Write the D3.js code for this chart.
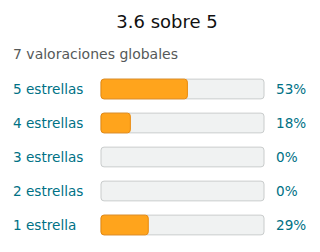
<!DOCTYPE html>
<html>
<head>
<meta charset="utf-8">
<script src="https://cdn.jsdelivr.net/npm/d3@7"></script>
<style>
  body { margin: 0; background: #fff; }
  text { font-family: "DejaVu Sans", sans-serif; }
</style>
</head>
<body>
<div class="canva"></div>
<script>
// data
const titleText = '3.6 sobre 5'
const subtitleText = '7 valoraciones globales'
const categories = ['5 estrellas', '4 estrellas', '3 estrellas', '2 estrellas', '1 estrella']
const percents = [53, 18, 0, 0, 29]

const W = 320, H = 252
const svg = d3.select('.canva').append('svg')
    .attr('width', W)
    .attr('height', H)

// title
svg.append('text')
    .text(titleText)
    .attr('x', 167)
    .attr('y', 28)
    .attr('text-anchor', 'middle')
    .attr('font-size', '18px')
    .attr('fill', '#111')

svg.append('text')
    .text(subtitleText)
    .attr('x', 13)
    .attr('y', 59)
    .attr('font-size', '14px')
    .attr('fill', '#565959')

// scales
const x = d3.scaleLinear().domain([0, 100]).range([101, 264])
const y = d3.scaleBand().domain(categories).range([72, 242]).paddingInner(0.42).paddingOuter(0.21)

const rows = svg.selectAll('g.row')
    .data(categories)
    .enter().append('g')
    .attr('class', 'row')

rows.append('text')
    .text(d => d)
    .attr('x', 13)
    .attr('y', d => y(d) + y.bandwidth() / 2)
    .attr('dy', '0.35em')
    .attr('font-size', '13.6px')
    .attr('fill', '#007185')

rows.append('rect')
    .attr('x', x(0))
    .attr('y', d => y(d))
    .attr('width', x(100) - x(0))
    .attr('height', y.bandwidth())
    .attr('rx', 3)
    .attr('fill', '#F0F2F2')
    .attr('stroke', '#C9CCCC')
    .attr('stroke-width', 1)

rows.append('rect')
    .attr('x', x(0))
    .attr('y', d => y(d))
    .attr('width', (d, i) => x(percents[i]) - x(0))
    .attr('height', y.bandwidth())
    .attr('rx', 3)
    .attr('fill', '#FFA41C')
    .attr('stroke', (d, i) => percents[i] > 0 ? '#E8890C' : 'none')
    .attr('stroke-width', 1)

rows.append('text')
    .text((d, i) => percents[i] + '%')
    .attr('x', 276)
    .attr('y', d => y(d) + y.bandwidth() / 2)
    .attr('dy', '0.35em')
    .attr('font-size', '13.6px')
    .attr('fill', '#007185')
</script>
</body>
</html>
